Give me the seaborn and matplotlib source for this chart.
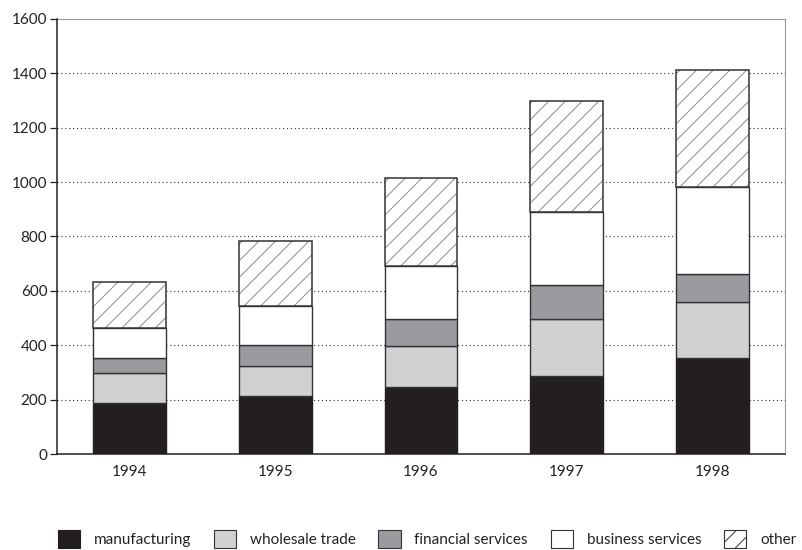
import matplotlib
matplotlib.use("Agg")
import matplotlib.pyplot as plt
import seaborn as sns
import numpy as np
import pandas as pd
from matplotlib.patches import Patch

years = ["1994", "1995", "1996", "1997", "1998"]
manufacturing = [188, 212, 245, 287, 354]
wholesale_trade = [110, 111, 151, 209, 206]
financial_services = [56, 77, 100, 125, 101]
business_services = [111, 144, 195, 268, 322]
other = [166, 239, 325, 410, 428]

series_names = ["manufacturing", "wholesale trade", "financial services",
                "business services", "other"]
series_values = [manufacturing, wholesale_trade, financial_services,
                 business_services, other]
y_ticks = [0, 200, 400, 600, 800, 1000, 1200, 1400, 1600]

sns.set_theme(style="white")
plt.rcParams['font.family'] = ['Lato', 'DejaVu Sans']
plt.rcParams['hatch.linewidth'] = 0.7

fig = plt.figure(figsize=(8.03, 5.5), dpi=100)
ax = fig.add_axes([57/803, 1 - 454/550, (785-57)/803, (454-19)/550])

df = pd.DataFrame({"year": years})
for n, v in zip(series_names, series_values):
    df[n] = v

fills = ["#231f20", "#d0d1d3", "#9a9b9e", "#ffffff", "#ffffff"]
edge = "#333333"
bottom = np.zeros(len(years))
for i, (n, c) in enumerate(zip(series_names, fills)):
    if n == "other":
        sns.barplot(data=df, x="year", y=n, bottom=bottom, color="white",
                    saturation=1, width=0.5, edgecolor="#8a8a8a",
                    linewidth=0, hatch="//", ax=ax, zorder=3)
        sns.barplot(data=df, x="year", y=n, bottom=bottom, fill=False,
                    color=edge, saturation=1, width=0.5, edgecolor=edge,
                    linewidth=1.1, ax=ax, zorder=4)
    else:
        sns.barplot(data=df, x="year", y=n, bottom=bottom, color=c,
                    saturation=1, width=0.5,
                    edgecolor=edge if n != "manufacturing" else c,
                    linewidth=1.0, ax=ax, zorder=3)
    bottom = bottom + np.array(df[n])

ax.set_xlim(-0.5, 4.5)
ax.set_ylim(0, 1600)
ax.set_yticks(y_ticks)
ax.set_xlabel("")
ax.set_ylabel("")
ax.yaxis.grid(True, linestyle=(0, (1, 2.5)), color="#333333", linewidth=0.8, zorder=0)
ax.xaxis.grid(False)
ax.set_axisbelow(True)

for s in ["left", "bottom"]:
    ax.spines[s].set_color("#222222")
    ax.spines[s].set_linewidth(1.1)
for s in ["top", "right"]:
    ax.spines[s].set_color("#999999")
    ax.spines[s].set_linewidth(0.8)
ax.spines["left"].set_zorder(5)
ax.spines["bottom"].set_zorder(5)

ax.tick_params(axis="y", direction="out", length=5, width=0.9, color="#222222",
               left=True, labelsize=11, labelcolor="#222222", pad=2)
ax.tick_params(axis="x", length=0, labelsize=11, labelcolor="#222222", pad=8)

handles = []
for n, c in zip(series_names, fills):
    if n == "other":
        handles.append(Patch(facecolor="white", edgecolor="#333333", hatch="//",
                             linewidth=0.8, label=n))
    elif n == "manufacturing":
        handles.append(Patch(facecolor=c, edgecolor=c, linewidth=0.8, label=n))
    else:
        handles.append(Patch(facecolor=c, edgecolor="#333333", linewidth=0.8, label=n))

fig.legend(handles=handles, loc="center", bbox_to_anchor=(427/803, 1 - 539/550),
           ncol=5, frameon=False, fontsize=11, handlelength=1.45, handleheight=1.35,
           handletextpad=0.9, columnspacing=1.5, borderaxespad=0,
           labelcolor="#222222")

fig.savefig("out.png", dpi=100)
